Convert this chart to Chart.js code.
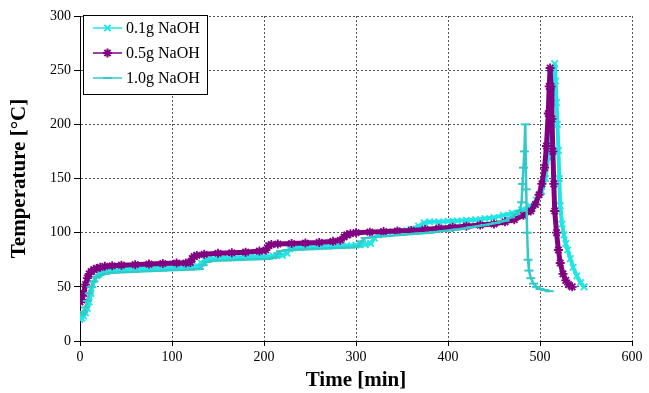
<!DOCTYPE html>
<html>
  <head>
    <title>Temperature vs Time</title>
    <script src="https://cdn.jsdelivr.net/npm/chart.js"></script>
    <style>
      html, body { margin: 0; padding: 0; background: #fff; }
    </style>
  </head>
  <body>
    <canvas id="tempChart" width="649" height="393"></canvas>

    <script>
      // 0.1g NaOH
      const time01 = [
        0, 2, 4, 6, 8, 10, 12, 14, 16, 18,
        21, 25, 30, 40, 50, 60, 70, 80, 90, 100,
        110, 120, 128, 132, 136, 140, 150, 160, 170, 180,
        190, 200, 210, 220, 225, 228, 232, 240, 250, 260,
        270, 280, 290, 300, 310, 316, 320, 324, 330, 340,
        350, 360, 368, 374, 380, 390, 400, 410, 420, 430,
        440, 450, 460, 470, 480, 490, 496, 502, 506, 509,
        511, 513, 515, 516, 517, 518, 519, 520, 521, 522,
        524, 526, 528, 530, 533, 536, 540, 544, 548
      ];
      const temp01 = [
        20, 21, 23, 26, 30, 36, 44, 52, 57, 60,
        62, 64, 65, 66, 66.5, 67, 67, 67.5, 68, 68,
        68.5, 68.5, 69, 72, 75, 76, 76.5, 77, 77, 77.5,
        78, 78, 78.5, 79, 81, 85, 86, 86.5, 87, 87,
        87.5, 88, 88, 88.5, 89, 90, 95, 98, 100, 101,
        102, 103, 106, 109, 110, 110, 110.5, 111, 111.5, 112,
        113, 114, 116, 118, 121, 124, 130, 138, 150, 170,
        200, 230, 250, 256, 240, 220, 200, 176, 150, 125,
        108, 98, 90, 84, 76, 68, 60, 54, 50
      ];

      // 0.5g NaOH
      const time05 = [
        0, 2, 4, 6, 8, 10, 12, 15, 18, 22,
        27, 35, 45, 60, 75, 90, 105, 115, 120, 122,
        124, 127, 135, 150, 165, 180, 195, 202, 205, 208,
        215, 230, 245, 260, 275, 283, 287, 290, 294, 300,
        315, 330, 345, 360, 375, 390, 405, 420, 435, 450,
        462, 472, 482, 490, 495, 499, 502, 505, 507, 509,
        510, 511, 512, 513, 514, 515, 516, 518, 520, 522,
        525, 528, 531, 535
      ];
      const temp05 = [
        36, 38, 44, 52, 58, 62, 64, 66, 67, 68,
        69, 69.5, 70, 70.5, 71, 71.5, 72, 72, 72.5, 76,
        78, 79, 80, 81, 81.5, 82, 83, 84, 88, 89,
        89.5, 90, 90.5, 91, 92, 93, 96, 98, 99, 100,
        100.5, 101, 101.5, 102, 103, 104, 105, 106, 107, 108,
        110, 112, 116, 120, 126, 135, 145, 160, 180, 210,
        235, 252, 235, 205, 175, 145, 120, 100, 84, 72,
        62, 56, 52, 50
      ];

      // 1.0g NaOH
      const time10 = [
        0, 2, 4, 6, 8, 10, 12, 15, 18, 22,
        27, 35, 45, 60, 75, 90, 105, 120, 130, 134,
        138, 145, 160, 175, 190, 205, 212, 215, 218, 225,
        240, 255, 270, 285, 295, 302, 306, 310, 320, 335,
        350, 365, 380, 395, 410, 425, 440, 452, 462, 468,
        474, 478, 480, 481, 482, 483, 484, 485, 486, 487,
        488, 490, 493, 496, 500, 505, 510
      ];
      const temp10 = [
        24, 25, 27, 31, 37, 44, 50, 55, 59, 61,
        62, 63, 63.5, 64, 64.5, 65, 65.5, 66, 66.5, 70,
        73, 74, 74.5, 75, 75.5, 76, 77, 81, 83, 84,
        84.5, 85, 85.5, 86, 86.5, 87, 92, 95, 96, 97,
        98, 99, 100, 101.5, 103, 105, 107, 109, 111, 114,
        117, 120, 128, 145, 160, 175, 200, 140, 100, 75,
        65, 58, 53, 50, 48, 47, 46
      ];

      const xTicks = [0, 100, 200, 300, 400, 500, 600];
      const yTicks = [0, 50, 100, 150, 200, 250, 300];

      const serif = "'Liberation Serif', 'Times New Roman', serif";

      function pairs(ts, vs) {
        return ts.map((t, i) => ({ x: t, y: vs[i] }));
      }

      function drawMarker(ctx, style, x, y, r) {
        ctx.beginPath();
        if (style === "crossRot" || style === "star") {
          ctx.moveTo(x - r * 0.7, y - r * 0.7);
          ctx.lineTo(x + r * 0.7, y + r * 0.7);
          ctx.moveTo(x + r * 0.7, y - r * 0.7);
          ctx.lineTo(x - r * 0.7, y + r * 0.7);
        }
        if (style === "star") {
          ctx.moveTo(x, y - r);
          ctx.lineTo(x, y + r);
          ctx.moveTo(x - r, y);
          ctx.lineTo(x + r, y);
        }
        if (style === "line") {
          ctx.moveTo(x - r, y);
          ctx.lineTo(x + r, y);
        }
        ctx.stroke();
      }

      // legend box inside the plot, top left
      const legendBox = {
        id: "legendBox",
        afterDraw(chart) {
          const ctx = chart.ctx;
          ctx.save();
          ctx.fillStyle = "#fff";
          ctx.fillRect(83, 15, 124, 79);
          ctx.strokeStyle = "#000";
          ctx.lineWidth = 1;
          ctx.strokeRect(83.5, 15.5, 124, 79);
          chart.data.datasets.forEach((ds, i) => {
            const y = 28 + i * 25;
            ctx.strokeStyle = ds.borderColor;
            ctx.lineWidth = 1.5;
            ctx.beginPath();
            ctx.moveTo(93, y);
            ctx.lineTo(122, y);
            ctx.stroke();
            ctx.lineWidth = 2;
            drawMarker(ctx, ds.pointStyle, 107.5, y, 4.5);
            ctx.fillStyle = "#000";
            ctx.font = "16px " + serif;
            ctx.textBaseline = "middle";
            ctx.fillText(ds.label, 126, y + 1);
          });
          ctx.restore();
        },
      };

      new Chart(document.getElementById("tempChart"), {
        type: "scatter",
        data: {
          datasets: [
            {
              label: "0.1g NaOH",
              data: pairs(time01, temp01),
              borderColor: "#22e6e6",
              backgroundColor: "#22e6e6",
              borderWidth: 4,
              pointStyle: "crossRot",
              pointRadius: 4.5,
              pointBorderWidth: 1.8,
              showLine: true,
              order: 3,
            },
            {
              label: "0.5g NaOH",
              data: pairs(time05, temp05),
              borderColor: "#800080",
              backgroundColor: "#800080",
              borderWidth: 5,
              pointStyle: "star",
              pointRadius: 4.5,
              pointBorderWidth: 1.8,
              showLine: true,
              order: 2,
            },
            {
              label: "1.0g NaOH",
              data: pairs(time10, temp10),
              borderColor: "#33c9c9",
              backgroundColor: "#33c9c9",
              borderWidth: 2.5,
              pointStyle: "line",
              pointRadius: 4.5,
              pointBorderWidth: 2,
              showLine: true,
              order: 1,
            },
          ],
        },
        options: {
          responsive: false,
          animation: false,
          layout: { padding: { top: 16, right: 17, bottom: 0, left: 0 } },
          plugins: {
            legend: { display: false },
            tooltip: { enabled: false },
          },
          scales: {
            x: {
              type: "linear",
              min: 0,
              max: 600,
              afterBuildTicks(scale) {
                scale.ticks = xTicks.map((v) => ({ value: v }));
              },
              afterFit(scale) {
                scale.height = 52;
              },
              ticks: {
                color: "#000",
                font: { family: serif, size: 14 },
                padding: 3,
                maxRotation: 0,
              },
              grid: { color: "#555", tickColor: "#000", tickLength: 5, tickBorderDash: [] },
              border: { color: "#000", width: 1, dash: [2, 2] },
              title: {
                display: true,
                text: "Time [min]",
                color: "#000",
                font: { family: serif, size: 21, weight: "bold" },
                padding: { top: 0, bottom: 0 },
              },
            },
            y: {
              min: 0,
              max: 300,
              afterBuildTicks(scale) {
                scale.ticks = yTicks.map((v) => ({ value: v }));
              },
              afterFit(scale) {
                scale.width = 80;
              },
              ticks: {
                color: "#000",
                font: { family: serif, size: 14 },
                padding: 3,
              },
              grid: { color: "#555", tickColor: "#000", tickLength: 6, tickBorderDash: [] },
              border: { color: "#000", width: 1, dash: [2, 2] },
              title: {
                display: true,
                text: "Temperature [°C]",
                color: "#000",
                font: { family: serif, size: 21, weight: "bold" },
                padding: { top: 7, bottom: 0 },
              },
            },
          },
        },
        plugins: [legendBox],
      });
    </script>
  </body>
</html>
